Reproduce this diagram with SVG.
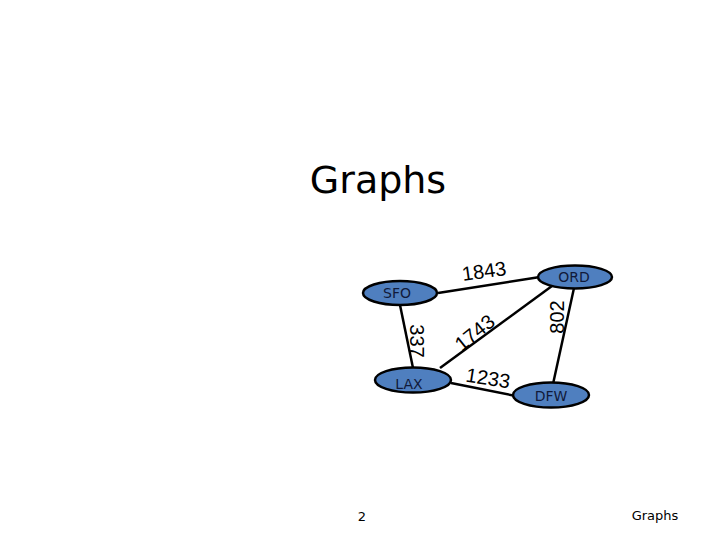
<svg xmlns="http://www.w3.org/2000/svg" width="720" height="540" viewBox="0 0 720 540">
<style>
.node ellipse{fill:#4f7fbf;stroke:#000;stroke-width:2.5}
.node text{font-family:"DejaVu Sans",Verdana,sans-serif;font-size:14px;fill:#111a3a;text-anchor:middle}
.edges line{stroke:#000;stroke-width:2.5}
.lbl{font-family:"Liberation Sans",Arial,sans-serif;font-size:20px;fill:#000;text-anchor:middle}
</style>
<rect width="720" height="540" fill="#fff"/>
<text x="378" y="193" font-family="DejaVu Sans,Verdana,sans-serif" font-size="38" text-anchor="middle" fill="#000">Graphs</text>
<g class="edges">
<line x1="438" y1="293" x2="540" y2="277"/>
<line x1="400" y1="305" x2="413" y2="368"/>
<line x1="440" y1="368" x2="552" y2="286"/>
<line x1="451" y1="383" x2="516" y2="396"/>
<line x1="574" y1="288" x2="553" y2="384"/>
<text class="lbl" transform="translate(485,278) rotate(-8)">1843</text>
<text class="lbl" transform="translate(410,341) rotate(90)">337</text>
<text class="lbl" transform="translate(479,338) rotate(-39)">1743</text>
<text class="lbl" transform="translate(487,385) rotate(9)">1233</text>
<text class="lbl" transform="translate(564,317) rotate(-90)">802</text>
</g>
<g id="SFO" class="node"><ellipse cx="400" cy="293" rx="37" ry="12"/><text x="397" y="298">SFO</text></g>
<g id="ORD" class="node"><ellipse cx="575" cy="277" rx="37" ry="11.5"/><text x="574" y="282">ORD</text></g>
<g id="LAX" class="node"><ellipse cx="413" cy="380" rx="38" ry="12.5"/><text x="409" y="389">LAX</text></g>
<g id="DFW" class="node"><ellipse cx="551" cy="395" rx="38" ry="12.5"/><text x="551" y="401">DFW</text></g>
<text x="362" y="521" font-family="DejaVu Sans,Verdana,sans-serif" font-size="13" text-anchor="middle" fill="#000">2</text>
<text x="655" y="520" font-family="DejaVu Sans,Verdana,sans-serif" font-size="13" text-anchor="middle" fill="#000">Graphs</text>
</svg>
